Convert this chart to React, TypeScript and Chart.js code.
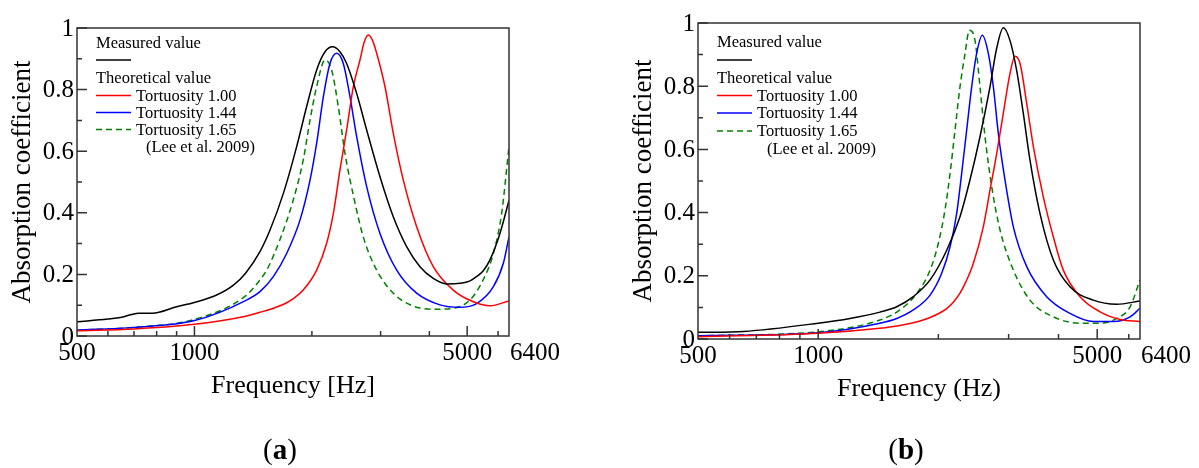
import React, { useEffect, useRef } from 'react';
import { Chart, registerables } from 'chart.js';
Chart.register(...registerables);

const FONT = '"Liberation Serif", "Times New Roman", serif';

// ---- axis definitions ----
const X_MIN = 500;
const X_MAX = 6400;
const X_TICKS_LONG = [1000, 5000];
const X_TICKS_SHORT = [600, 700, 800, 900, 2000, 3000, 4000, 6000];
const X_TICK_LABELS = [500, 1000, 5000, 6400];
const Y_TICKS_LONG = [0, 0.2, 0.4, 0.6, 0.8, 1];
const Y_TICKS_SHORT = [0.1, 0.3, 0.5, 0.7, 0.9];
const Y_TICK_LABELS = ['0', '0.2', '0.4', '0.6', '0.8', '1'];

const SERIES_NAMES = ['Measured value', 'Tortuosity 1.00', 'Tortuosity 1.44', 'Tortuosity 1.65'];
const SERIES_COLORS = ['#000000', '#ff0000', '#0000ff', '#008000'];

// ---- panel (a) data: [frequency Hz, absorption coefficient] ----
const A_MEASURED = [
  [500, 0.046], [600, 0.055], [651, 0.061], [690, 0.07], [720, 0.074], [780, 0.074], [900, 0.095],
  [1000, 0.109], [1140, 0.133], [1261, 0.166], [1352, 0.204], [1472, 0.274], [1562, 0.344],
  [1690, 0.463], [1828, 0.615], [1939, 0.745], [2057, 0.864], [2161, 0.923], [2260, 0.939],
  [2360, 0.923], [2455, 0.885], [2604, 0.788], [2763, 0.669], [2989, 0.517], [3233, 0.387],
  [3498, 0.29], [3784, 0.225], [4094, 0.187], [4430, 0.169], [4792, 0.171], [5070, 0.178],
  [5285, 0.193], [5500, 0.212], [5720, 0.247], [6067, 0.333], [6400, 0.44],
];
const A_T100 = [
  [500, 0.017], [700, 0.023], [1000, 0.038], [1352, 0.064], [1472, 0.077], [1600, 0.091],
  [1723, 0.108], [1800, 0.123], [1900, 0.149], [2057, 0.214], [2182, 0.301], [2270, 0.398],
  [2360, 0.539], [2455, 0.669], [2554, 0.81], [2656, 0.896], [2725, 0.955], [2790, 0.977],
  [2860, 0.96], [2931, 0.918], [3078, 0.81], [3233, 0.658], [3430, 0.506], [3711, 0.355],
  [4094, 0.225], [4606, 0.149], [5186, 0.111], [5720, 0.098], [6400, 0.114],
];
const A_T144 = [
  [500, 0.019], [700, 0.028], [1000, 0.05], [1352, 0.115], [1472, 0.144], [1593, 0.193],
  [1723, 0.268], [1865, 0.377], [1978, 0.506], [2057, 0.626], [2140, 0.777], [2225, 0.885],
  [2315, 0.918], [2407, 0.885], [2504, 0.777], [2605, 0.647], [2763, 0.485], [2989, 0.333],
  [3299, 0.214], [3711, 0.139], [4258, 0.101], [4775, 0.093], [5302, 0.106], [5836, 0.16],
  [6190, 0.236], [6400, 0.322],
];
const A_T165 = [
  [500, 0.019], [700, 0.028], [1000, 0.054], [1352, 0.13], [1472, 0.182], [1532, 0.214],
  [1655, 0.312], [1792, 0.442], [1900, 0.571], [1978, 0.701], [2057, 0.81], [2161, 0.896],
  [2247, 0.864], [2337, 0.745], [2431, 0.593], [2559, 0.452], [2708, 0.322], [2931, 0.214],
  [3233, 0.139], [3638, 0.097], [4176, 0.087], [4606, 0.09], [5083, 0.117], [5494, 0.182],
  [5836, 0.268], [6128, 0.398], [6400, 0.615],
];

// ---- panel (b) data ----
const B_MEASURED = [
  [500, 0.021], [650, 0.024], [1000, 0.05], [1201, 0.065], [1428, 0.085], [1573, 0.102],
  [1731, 0.134], [1907, 0.187], [2099, 0.281], [2266, 0.387], [2400, 0.503], [2543, 0.64],
  [2694, 0.798], [2800, 0.92], [2909, 0.985], [3023, 0.945], [3142, 0.85], [3265, 0.714],
  [3393, 0.566], [3595, 0.397], [3883, 0.25], [4274, 0.165], [4888, 0.123], [5594, 0.11],
  [6400, 0.12],
];
const B_T100 = [
  [500, 0.007], [1000, 0.018], [1428, 0.034], [1573, 0.041], [1833, 0.06], [2000, 0.08],
  [2099, 0.096], [2180, 0.116], [2266, 0.145], [2350, 0.184], [2447, 0.239], [2592, 0.355],
  [2694, 0.471], [2800, 0.587], [2909, 0.714], [3023, 0.84], [3112, 0.895], [3204, 0.872],
  [3330, 0.745], [3461, 0.608], [3664, 0.45], [3883, 0.323], [4112, 0.218], [4529, 0.134],
  [5082, 0.086], [5704, 0.062], [6400, 0.055],
];
const B_T144 = [
  [500, 0.01], [1000, 0.02], [1428, 0.05], [1573, 0.065], [1731, 0.092], [1907, 0.139],
  [2039, 0.208], [2140, 0.292], [2223, 0.397], [2288, 0.524], [2355, 0.661], [2424, 0.798],
  [2494, 0.903], [2577, 0.961], [2669, 0.903], [2747, 0.798], [2827, 0.65], [2938, 0.503],
  [3083, 0.355], [3330, 0.229], [3736, 0.134], [4274, 0.081], [4888, 0.055], [5486, 0.055],
  [6045, 0.07], [6400, 0.097],
];
const B_T165 = [
  [500, 0.01], [1000, 0.023], [1428, 0.06], [1603, 0.092], [1765, 0.144], [1907, 0.218],
  [2000, 0.303], [2078, 0.408], [2140, 0.524], [2202, 0.661], [2266, 0.798], [2333, 0.903],
  [2392, 0.977], [2471, 0.945], [2543, 0.798], [2618, 0.64], [2722, 0.481], [2855, 0.345],
  [3083, 0.218], [3393, 0.123], [3883, 0.07], [4529, 0.05], [5082, 0.05], [5594, 0.065],
  [6045, 0.102], [6400, 0.187],
];

type PanelCfg = {
  left: number;
  width: number;
  padding: { left: number; right: number; top: number; bottom: number };
  series: number[][][];
  xTitle: string;
  tag: string;
  tagX: number;
  legendRows: number[];
};

const PANELS: PanelCfg[] = [
  {
    left: 0,
    width: 600,
    padding: { left: 77, right: 91, top: 28, bottom: 132 },
    series: [A_MEASURED, A_T100, A_T144, A_T165],
    xTitle: 'Frequency [Hz]',
    tag: 'a',
    tagX: 280,
    legendRows: [44, 60, 79, 95.5, 112.5, 129.5, 148],
  },
  {
    left: 600,
    width: 599,
    padding: { left: 98, right: 59, top: 23, bottom: 129 },
    series: [B_MEASURED, B_T100, B_T144, B_T165],
    xTitle: 'Frequency (Hz)',
    tag: 'b',
    tagX: 306,
    legendRows: [43, 60, 79, 95.5, 113, 131, 150],
  },
];

function makeDecorPlugin(cfg: PanelCfg) {
  return {
    id: 'decor_' + cfg.tag,
    afterDraw(chart: any) {
      const ctx = chart.ctx as CanvasRenderingContext2D;
      const a = chart.chartArea;
      const xs = chart.scales.x;
      const ys = chart.scales.y;
      ctx.save();
      // frame
      ctx.strokeStyle = '#333';
      ctx.lineWidth = 1.5;
      ctx.setLineDash([]);
      ctx.strokeRect(a.left, a.top, a.right - a.left, a.bottom - a.top);
      // inward ticks
      ctx.beginPath();
      Y_TICKS_LONG.forEach((v) => {
        const y = ys.getPixelForValue(v);
        ctx.moveTo(a.left, y);
        ctx.lineTo(a.left + 10, y);
      });
      Y_TICKS_SHORT.forEach((v) => {
        const y = ys.getPixelForValue(v);
        ctx.moveTo(a.left, y);
        ctx.lineTo(a.left + 5, y);
      });
      X_TICKS_LONG.forEach((v) => {
        const x = xs.getPixelForValue(v);
        ctx.moveTo(x, a.bottom);
        ctx.lineTo(x, a.bottom - 10);
      });
      X_TICKS_SHORT.forEach((v) => {
        const x = xs.getPixelForValue(v);
        ctx.moveTo(x, a.bottom);
        ctx.lineTo(x, a.bottom - 5);
      });
      ctx.stroke();

      // tick labels
      ctx.fillStyle = '#000';
      ctx.font = `25px ${FONT}`;
      ctx.textAlign = 'right';
      ctx.textBaseline = 'middle';
      Y_TICKS_LONG.forEach((v, i) => {
        ctx.fillText(Y_TICK_LABELS[i], a.left - 3, ys.getPixelForValue(v) + 1);
      });
      ctx.textBaseline = 'alphabetic';
      X_TICK_LABELS.forEach((v) => {
        const x = xs.getPixelForValue(v);
        if (v === X_MAX) {
          ctx.textAlign = 'left';
          ctx.fillText(String(v), x + 1, a.bottom + 24);
        } else {
          ctx.textAlign = 'center';
          ctx.fillText(String(v), x, a.bottom + 24);
        }
      });

      // axis titles
      ctx.font = `26px ${FONT}`;
      ctx.textAlign = 'center';
      ctx.fillText(cfg.xTitle, (a.left + a.right) / 2, a.bottom + 57);
      ctx.save();
      ctx.translate(a.left - 54, (a.top + a.bottom) / 2);
      ctx.rotate(-Math.PI / 2);
      ctx.font = `27px ${FONT}`;
      ctx.textBaseline = 'middle';
      ctx.fillText('Absorption coefficient', 0, 0);
      ctx.restore();

      // panel tag "(a)" / "(b)"
      ctx.textBaseline = 'alphabetic';
      ctx.textAlign = 'left';
      const fN = `29px ${FONT}`;
      const fB = `bold 29px ${FONT}`;
      ctx.font = fN;
      const wp = ctx.measureText('(').width;
      const wq = ctx.measureText(')').width;
      ctx.font = fB;
      const wt = ctx.measureText(cfg.tag).width;
      let tx = cfg.tagX - (wp + wt + wq) / 2;
      const ty = 459;
      ctx.font = fN;
      ctx.fillText('(', tx, ty);
      tx += wp;
      ctx.font = fB;
      ctx.fillText(cfg.tag, tx, ty);
      tx += wt;
      ctx.font = fN;
      ctx.fillText(')', tx, ty);

      // legend
      const r = cfg.legendRows;
      const lx = a.left + 19;
      const lineLen = 35;
      ctx.font = `16.5px ${FONT}`;
      ctx.textAlign = 'left';
      ctx.textBaseline = 'middle';
      ctx.fillStyle = '#000';
      ctx.fillText(SERIES_NAMES[0], lx, r[0]);
      ctx.fillText('Theoretical value', lx, r[2]);
      ctx.lineWidth = 1.5;
      const legLine = (idx: number, y: number) => {
        ctx.strokeStyle = SERIES_COLORS[idx];
        ctx.setLineDash(idx === 3 ? [6, 4] : []);
        ctx.beginPath();
        ctx.moveTo(lx, y);
        ctx.lineTo(lx + lineLen, y);
        ctx.stroke();
      };
      legLine(0, r[1]);
      for (let i = 1; i <= 3; i++) {
        legLine(i, r[i + 2]);
        ctx.fillText(SERIES_NAMES[i], lx + lineLen + 5, r[i + 2] + 1);
      }
      ctx.setLineDash([]);
      ctx.fillText('(Lee et al. 2009)', lx + lineLen + 15, r[6]);
      ctx.restore();
    },
  };
}

function Panel({ cfg }: { cfg: PanelCfg }) {
  const ref = useRef<HTMLCanvasElement | null>(null);
  useEffect(() => {
    if (!ref.current) return;
    const datasets = cfg.series.map((s, i) => ({
      label: SERIES_NAMES[i],
      data: s.map((p) => ({ x: p[0], y: p[1] })),
      borderColor: SERIES_COLORS[i],
      backgroundColor: SERIES_COLORS[i],
      borderWidth: 1.5,
      borderDash: i === 3 ? [6, 4] : [],
      pointRadius: 0,
      fill: false,
      cubicInterpolationMode: 'monotone' as const,
    }));
    const chart = new Chart(ref.current, {
      type: 'line',
      data: { datasets: datasets as any },
      options: {
        animation: false,
        responsive: false,
        maintainAspectRatio: false,
        devicePixelRatio: 1,
        layout: { padding: cfg.padding },
        plugins: { legend: { display: false }, tooltip: { enabled: false } },
        scales: {
          x: { type: 'logarithmic', min: X_MIN, max: X_MAX, display: false },
          y: { type: 'linear', min: 0, max: 1, display: false },
        },
      },
      plugins: [makeDecorPlugin(cfg)],
    });
    return () => chart.destroy();
  }, [cfg]);
  return (
    <canvas
      ref={ref}
      width={cfg.width}
      height={468}
      style={{ position: 'absolute', left: cfg.left, top: 0, width: cfg.width, height: 468 }}
    />
  );
}

export default function App() {
  return (
    <div style={{ position: 'fixed', left: 0, top: 0, width: 1199, height: 468, background: '#fff', overflow: 'hidden' }}>
      {PANELS.map((p) => (
        <Panel key={p.tag} cfg={p} />
      ))}
    </div>
  );
}
